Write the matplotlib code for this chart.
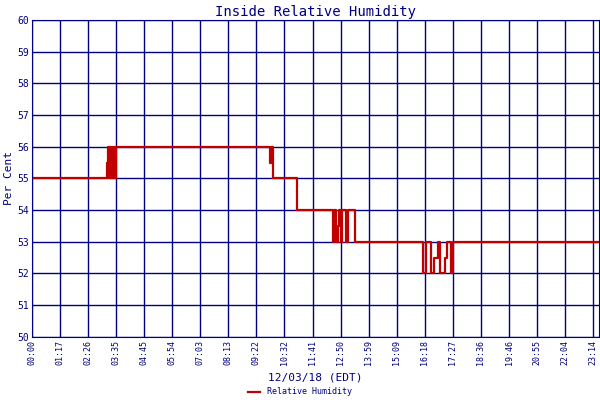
import matplotlib
matplotlib.use("Agg")
import matplotlib.pyplot as plt
import numpy as np

# times in minutes since midnight, humidity values (step, post)
times = [0, 190, 193, 195, 197, 199, 201, 203, 205, 207, 209, 211, 213, 216,
         605, 608, 611, 673, 765, 768, 772, 776, 779, 785, 788, 798, 802, 820,
         993, 1000, 1012, 1022, 1030, 1036, 1048, 1055, 1064, 1068, 1439]
values = [55, 55.5, 56, 55, 56, 55, 56, 55, 56, 55, 56, 55, 56, 56,
          55.5, 56, 55, 54, 53, 54, 53, 53.5, 54, 53, 54, 53, 54, 53,
          52, 53, 52, 52.5, 53, 52, 52.5, 53, 52, 53, 53]
tick_labels = ["00:00", "01:17", "02:26", "03:35", "04:45", "05:54", "07:03",
               "08:13", "09:22", "10:32", "11:41", "12:50", "13:59", "15:09",
               "16:18", "17:27", "18:36", "19:46", "20:55", "22:04", "23:14"]
yticks = list(range(50, 61))

navy = "#000080"
red = "#c00000"
plt.rcParams['font.family'] = ['DejaVu Sans Mono']

fig = plt.figure(figsize=(6, 4), dpi=100)
ax = fig.add_axes([0.053, 0.158, 0.945, 0.792])
ax.step(times, values, where="post", color=red, lw=1.6, zorder=2)
ax.set_xlim(0, 1439)
ax.set_ylim(50, 60)
step = 1425 / 20
ax.set_xticks([i * step for i in range(len(tick_labels))])
ax.set_xticklabels(tick_labels, rotation=90, fontsize=6, color=navy)
ax.set_yticks(yticks)
ax.set_yticklabels([str(v) for v in yticks], fontsize=7, color=navy)
ax.grid(True, color=navy, lw=1, zorder=1)
ax.set_axisbelow(True)
for s in ax.spines.values():
    s.set_color(navy)
ax.tick_params(colors=navy, length=0, pad=2)
ax.set_title("Inside Relative Humidity", color=navy, fontsize=10, pad=3)
ax.set_ylabel("Per Cent", color=navy, fontsize=8, labelpad=2)
ax.set_xlabel("12/03/18 (EDT)", color=navy, fontsize=8, labelpad=6)
leg = fig.legend(["Relative Humidity"], loc="lower center", bbox_to_anchor=(0.5, -0.01),
                 frameon=False, fontsize=6, handlelength=1.5)
for t in leg.get_texts():
    t.set_color(navy)
fig.savefig("out.png", dpi=100)
